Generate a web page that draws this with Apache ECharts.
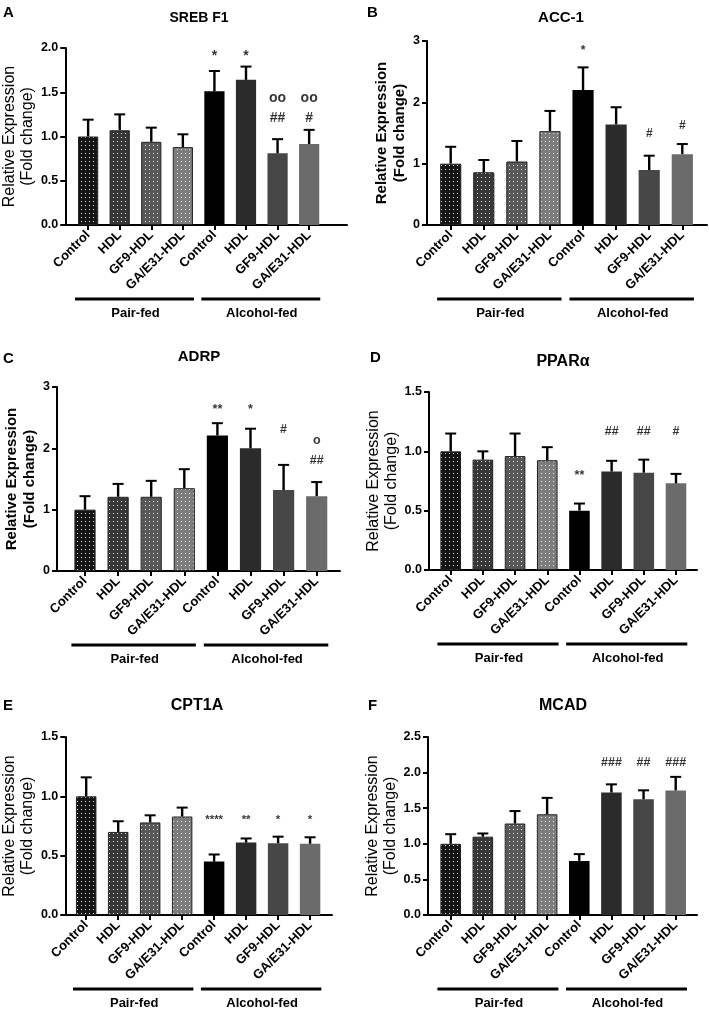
<!DOCTYPE html>
<html><head><meta charset="utf-8">
<script src="https://cdn.jsdelivr.net/npm/echarts@6/dist/echarts.min.js"></script>
<style>html,body{margin:0;padding:0;background:#fff}#c{width:709px;height:1009px}</style>
</head><body><div id="c"></div>
<script>
// ---------------- data ----------------
const categories = ['Control','HDL','GF9-HDL','GA/E31-HDL','Control','HDL','GF9-HDL','GA/E31-HDL'];
const groups = ['Pair-fed','Alcohol-fed'];
const letters = ['A','B','C','D','E','F'];
const titles = ['SREB F1','ACC-1','ADRP','PPARα','CPT1A','MCAD'];
const yName = 'Relative Expression\n(Fold change)';

const meanA = [1.00,1.07,0.94,0.88,1.51,1.64,0.81,0.915];
const semA  = [0.19,0.18,0.16,0.145,0.23,0.15,0.16,0.16];
const annA  = ['','','','','*','*','oo\n##','oo\n#'];
const annYA = [null,null,null,null,1.91,1.91,1.32,1.32];

const meanB = [1.00,0.86,1.035,1.53,2.20,1.64,0.895,1.155];
const semB  = [0.275,0.20,0.335,0.33,0.37,0.28,0.235,0.165];
const annB  = ['','','','','*','','#','#'];
const annYB = [null,null,null,null,2.84,null,1.49,1.62];

const meanC = [1.00,1.21,1.21,1.35,2.21,2.00,1.32,1.22];
const semC  = [0.22,0.21,0.26,0.31,0.20,0.32,0.41,0.23];
const annC  = ['','','','','**','*','#','o\n##'];
const annYC = [null,null,null,null,2.63,2.63,2.30,1.97];

const meanD = [1.00,0.93,0.96,0.925,0.50,0.83,0.82,0.73];
const semD  = [0.15,0.07,0.19,0.11,0.06,0.09,0.11,0.08];
const annD  = ['','','','','**','##','##','#'];
const annYD = [null,null,null,null,0.80,1.165,1.165,1.165];

const meanE = [1.00,0.70,0.78,0.83,0.45,0.61,0.605,0.60];
const semE  = [0.16,0.09,0.06,0.075,0.06,0.035,0.055,0.055];
const annE  = ['','','','','****','**','*','*'];
const annYE = [null,null,null,null,0.80,0.80,0.80,0.80];

const meanF = [1.00,1.10,1.285,1.415,0.76,1.72,1.626,1.75];
const semF  = [0.135,0.045,0.175,0.23,0.095,0.115,0.125,0.19];
const annF  = ['','','','','','###','##','###'];
const annYF = [null,null,null,null,null,2.14,2.14,2.14];

const yMax = [2, 3, 3, 1.5, 1.5, 2.5];
const yInterval = [0.5, 1, 1, 0.5, 0.5, 0.5];
const yDecimals = [1, 0, 0, 1, 1, 1];

const panelsData = [
  [meanA, semA, annA, annYA],
  [meanB, semB, annB, annYB],
  [meanC, semC, annC, annYC],
  [meanD, semD, annD, annYD],
  [meanE, semE, annE, annYE],
  [meanF, semF, annF, annYF]
];

// ---------------- layout & style ----------------
const FONT = "'Liberation Sans', Arial, Helvetica, sans-serif";
const L = [
  {axisX:63,  top:48,  bottom:225, c0:86,    c7:309,   axisEnd:347, tx:199, ty:18,  ts:14, lx:3,   ly:13,  gap:27, nw:'normal', ns:16, as:14},
  {axisX:427, top:41,  bottom:225, c0:450.7, c7:682.3, axisEnd:707, tx:561, ty:18,  ts:15, lx:367, ly:13,  gap:17, nw:'bold',   ns:15, as:12},
  {axisX:57,  top:387, bottom:571, c0:85,    c7:316.7, axisEnd:340, tx:199, ty:357, ts:15, lx:3,   ly:359, gap:12, nw:'bold',   ns:15, as:12.5},
  {axisX:429, top:392, bottom:570, c0:450.7, c7:676,   axisEnd:697, tx:563, ty:362, ts:16, lx:370, ly:358, gap:27, nw:'normal', ns:16, as:12.5},
  {axisX:64,  top:737, bottom:915, c0:85,    c7:310,   axisEnd:332, tx:197, ty:706, ts:16, lx:3,   ly:706, gap:28, nw:'normal', ns:16, as:11.5},
  {axisX:428, top:737, bottom:915, c0:450.7, c7:675.7, axisEnd:697, tx:563, ty:706, ts:16, lx:368, ly:706, gap:25, nw:'normal', ns:16, as:12.5}
];
const pairColors = ['#151515','#373737','#585858','#7c7c7c'];
const alcColors  = ['#000000','#2b2b2b','#474747','#6b6b6b'];

function dotPattern(color){
  const c = document.createElement('canvas'); c.width = 4; c.height = 4;
  const g = c.getContext('2d');
  g.fillStyle = color; g.fillRect(0,0,4,4);
  g.fillStyle = 'rgba(255,255,255,0.85)'; g.fillRect(1,1,1,1);
  return {image: c, repeat: 'repeat'};
}

const chart = echarts.init(document.getElementById('c'), null, {renderer:'canvas'});
const grid = [], xAxis = [], yAxis = [], series = [];

L.forEach((p, i) => {
  const s = (p.c7 - p.c0) / 7;
  const gl = p.c0 - s / 2;
  const h = p.bottom - p.top;
  grid.push({left: gl, top: p.top, width: 8 * s, height: h, containLabel:false});
  grid.push({left: p.axisX, top: p.top, width: p.axisEnd - p.axisX, height: h, containLabel:false});
  const mi = 2 * i, ai = 2 * i + 1;
  xAxis.push({
    type:'category', gridIndex: mi, data: categories,
    axisLine:{show:false},
    axisTick:{show:true, alignWithLabel:true, interval:0, length:5, lineStyle:{color:'#000', width:2}},
    axisLabel:{show:true, interval:0, rotate:45, margin:8, color:'#000', fontFamily:FONT, fontWeight:'bold', fontSize:13},
    splitLine:{show:false}
  });
  xAxis.push({
    type:'value', gridIndex: ai, min:0, max:1,
    axisLine:{show:true, lineStyle:{color:'#000', width:2}},
    axisTick:{show:false}, axisLabel:{show:false}, splitLine:{show:false}
  });
  const dec = yDecimals[i];
  yAxis.push({
    type:'value', gridIndex: mi, min:0, max:yMax[i], interval:yInterval[i],
    offset: gl - p.axisX,
    axisLine:{show:true, lineStyle:{color:'#000', width:2}},
    axisTick:{show:true, length:5, lineStyle:{color:'#000', width:2}},
    axisLabel:{show:true, margin:7, color:'#000', fontFamily:FONT, fontWeight:'bold', fontSize:12.5,
      formatter: v => v.toFixed(dec)},
    splitLine:{show:false},
    name: yName, nameLocation:'middle', nameGap: p.gap,
    nameTextStyle:{color:'#000', fontFamily:FONT, fontWeight:p.nw, fontSize:p.ns, lineHeight:18}
  });
  yAxis.push({type:'value', gridIndex: ai, min:0, max:1, show:false});

  const [mean, sem, ann, annY] = panelsData[i];
  series.push({
    type:'bar', xAxisIndex: mi, yAxisIndex: mi, barWidth:'64%', z:3,
    data: mean.map((v, j) => ({
      value: v,
      itemStyle: j < 4
        ? {color: dotPattern(pairColors[j]), borderColor:'#222', borderWidth:1}
        : {color: alcColors[j - 4]}
    }))
  });
  series.push({
    type:'custom', xAxisIndex: mi, yAxisIndex: mi, z:4,
    data: mean.map((v, j) => [j, v, sem[j]]),
    renderItem: function(params, api){
      const x = api.value(0), m = api.value(1), e = api.value(2);
      const p0 = api.coord([x, m]), p1 = api.coord([x, m + e]);
      const hw = 5.5;
      return {type:'group', children:[
        {type:'line', shape:{x1:p0[0], y1:p0[1], x2:p1[0], y2:p1[1]}, style:{stroke:'#000', lineWidth:2.4}},
        {type:'line', shape:{x1:p1[0]-hw, y1:p1[1], x2:p1[0]+hw, y2:p1[1]}, style:{stroke:'#000', lineWidth:2}}
      ]};
    }
  });
  const annData = [];
  ann.forEach((t, j) => { if (t) annData.push({value:[j, annY[j]], label:{formatter: t}}); });
  series.push({
    type:'scatter', xAxisIndex: mi, yAxisIndex: mi, symbolSize:1, z:5,
    itemStyle:{color:'rgba(0,0,0,0)'},
    label:{show:true, position:'inside', color:'#000', fontFamily:FONT, fontWeight:'bold', fontSize:p.as, lineHeight:20},
    data: annData
  });
});

chart.setOption({animation:false, backgroundColor:'#fff', grid, xAxis, yAxis, series});

// ---------- group brackets, titles, letters ----------
const graphic = [];
L.forEach((p, i) => {
  const mi = 2 * i;
  const cx = j => chart.convertToPixel({xAxisIndex: mi}, j);
  const s = cx(1) - cx(0);
  const bw = 0.64 * s;
  const yLine = p.bottom + 74, yText = p.bottom + 88;
  [[0,3],[4,7]].forEach((g, k) => {
    graphic.push({type:'line', shape:{x1: cx(g[0]) - bw/2 - 3, y1: yLine, x2: cx(g[1]) + bw/2 + 1, y2: yLine},
      style:{stroke:'#000', lineWidth:3}});
    graphic.push({type:'text', x: (cx(g[0]+1) + cx(g[0]+2)) / 2, y: yText,
      style:{text: groups[k], fill:'#000', font:'bold 13px ' + FONT, align:'center', verticalAlign:'middle', textAlign:'center', textVerticalAlign:'middle'}});
  });
  graphic.push({type:'text', x: p.tx, y: p.ty,
    style:{text: titles[i], fill:'#000', font:'bold ' + p.ts + 'px ' + FONT, align:'center', verticalAlign:'middle', textAlign:'center', textVerticalAlign:'middle'}});
  graphic.push({type:'text', x: p.lx, y: p.ly,
    style:{text: letters[i], fill:'#000', font:'bold 15px ' + FONT, align:'left', verticalAlign:'middle', textAlign:'left', textVerticalAlign:'middle'}});
});
chart.setOption({graphic});
</script>
</body></html>
